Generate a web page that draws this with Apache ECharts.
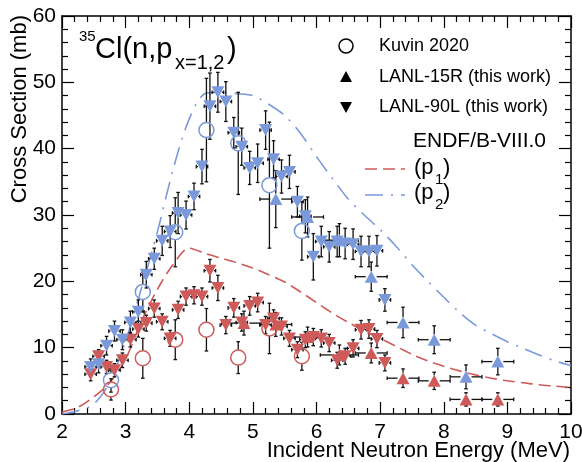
<!DOCTYPE html>
<html>
<head>
<meta charset="utf-8">
<script src="https://cdn.jsdelivr.net/npm/echarts@6/dist/echarts.min.js"></script>
<style>
html, body { margin: 0; padding: 0; background: #fff; }
#chart { width: 582px; height: 462px; }
</style>
</head>
<body>
<div id="chart"></div>
<script>
// ENDF/B-VIII.0 evaluation
const endfE = [2.0, 2.25, 2.5, 2.75, 3.0, 3.25, 3.5, 3.75, 4.0, 4.25, 4.5, 4.75, 5.0, 5.25, 5.5, 5.75, 6.0, 6.25, 6.5, 6.75, 7.0, 7.25, 7.5, 7.75, 8.0, 8.25, 8.5, 8.75, 9.0, 9.25, 9.5, 9.75, 10.0];
const endfP1 = [0.3, 1.0, 2.6, 4.7, 8.3, 14.0, 18.8, 22.6, 25.0, 24.2, 23.5, 22.8, 22.0, 21.0, 19.9, 18.4, 16.8, 15.2, 13.8, 12.5, 11.4, 10.2, 9.0, 8.0, 7.2, 6.5, 5.9, 5.4, 5.0, 4.7, 4.4, 4.2, 4.0];
const endfP2 = [0.0, 0.5, 1.5, 4.8, 11.0, 19.0, 27.5, 37.0, 44.5, 48.3, 48.5, 48.3, 48.0, 46.7, 45.0, 42.3, 38.8, 35.5, 32.4, 30.0, 27.8, 25.3, 22.5, 20.0, 17.6, 15.3, 13.4, 12.1, 10.9, 9.9, 8.9, 8.0, 7.3];

// LANL-90L (this work)
const e90L = [2.45, 2.575, 2.7, 2.825, 2.95, 3.075, 3.2, 3.325, 3.45, 3.575, 3.7, 3.825, 3.95, 4.075, 4.2, 4.325, 4.45, 4.575, 4.7, 4.825, 4.95, 5.075, 5.2, 5.325, 5.45, 5.575, 5.7, 5.825, 5.95, 6.075, 6.2, 6.325, 6.45, 6.575, 6.7, 6.825, 6.95, 7.075];
const p1_90L = [6.0, 8.7, 7.1, 6.6, 8.1, 11.2, 12.8, 13.7, 15.9, 13.9, 11.4, 15.7, 17.7, 17.9, 17.7, 21.6, 19.0, 13.4, 16.0, 13.8, 16.3, 16.8, 13.4, 14.4, 13.2, 11.4, 9.7, 11.2, 11.6, 11.4, 10.7, 8.1, 8.7, 9.9, 12.7, 12.8, 11.3, 7.7];
const p1_90L_err = [1.0, 1.0, 1.0, 1.0, 1.1, 1.1, 1.2, 1.2, 1.3, 1.2, 1.2, 1.3, 1.3, 1.3, 1.3, 1.7, 1.9, 1.3, 1.4, 1.3, 1.4, 1.4, 1.3, 1.3, 1.3, 1.2, 1.2, 1.2, 1.3, 1.3, 1.3, 1.2, 1.2, 1.3, 1.4, 1.4, 1.3, 1.2];
const p2_90L = [7.1, 7.5, 10.3, 12.5, 11.2, 13.8, 15.4, 21.0, 23.4, 26.1, 27.5, 30.3, 30.0, 32.8, 37.3, 46.4, 48.5, 47.1, 42.4, 40.3, 37.1, 37.8, 42.8, 38.4, 35.8, 36.5, 32.0, 29.8, 23.7, 26.0, 25.2, 26.0, 25.7, 25.6, 24.5, 24.5, 24.6, 17.2];
const p2_90L_err = [1.2, 1.3, 1.4, 1.5, 1.5, 1.7, 1.8, 2.0, 1.6, 2.2, 2.4, 3.1, 2.1, 2.0, 2.6, 5.0, 3.0, 3.0, 2.3, 2.8, 2.5, 2.9, 2.9, 2.8, 2.5, 2.5, 2.3, 2.5, 3.5, 2.3, 2.3, 2.3, 2.3, 2.3, 2.3, 2.3, 2.3, 1.7];

// LANL-15R (this work)
const e15R_p1 = [4.86, 5.36, 5.86, 6.36, 6.86, 7.36, 7.85, 8.35, 8.85];
const de15R_p1 = [0.35, 0.25, 0.25, 0.3, 0.25, 0.25, 0.25, 0.25, 0.25];
const p1_15R = [13.7, 13.5, 11.6, 8.9, 9.2, 5.4, 5.0, 2.2, 2.2];
const p1_15R_err = [1.8, 1.8, 1.5, 1.5, 1.5, 1.4, 1.3, 1.0, 1.0];
const e15R_p2 = [5.36, 5.86, 6.36, 6.86, 7.36, 7.85, 8.35, 8.85];
const de15R_p2 = [0.25, 0.25, 0.3, 0.25, 0.25, 0.25, 0.25, 0.25];
const p2_15R = [32.4, 29.7, 26.2, 20.7, 13.8, 11.2, 5.6, 7.9];
const p2_15R_err = [4.3, 3.0, 2.5, 2.2, 2.3, 2.1, 1.8, 2.0];

// Kuvin 2020
const eKuvin = [2.77, 3.27, 3.78, 4.27, 4.77, 5.26, 5.77];
const p1_Kuvin = [3.7, 8.4, 11.2, 12.7, 8.5, 12.9, 8.7];
const p1_Kuvin_err = [1.6, 3.0, 3.0, 3.2, 2.4, 3.8, 2.1];
const p2_Kuvin = [5.1, 18.4, 27.4, 42.8, 40.8, 34.5, 27.6];
const p2_Kuvin_err = [1.8, 3.0, 5.2, 7.8, 7.7, 9.5, 4.4];

const RED = '#cf5a5a';
const BLUE = '#7a99da';
const FONT = 'Liberation Sans, Arial, Helvetica, sans-serif';

const pairs = (xs, ys) => xs.map((x, i) => [x, ys[i]]);
const errRows = (xs, ys, dxs, dys) => xs.map((x, i) => [x, ys[i], Array.isArray(dxs) ? dxs[i] : dxs, dys[i]]);

// error bars drawn outside the marker, ROOT style with small end caps
function errorBars(data, gap) {
    return {
        type: 'custom',
        z: 3,
        silent: true,
        data: data,
        renderItem: function (params, api) {
            const x = api.value(0), y = api.value(1), dx = api.value(2), dy = api.value(3);
            const c = api.coord([x, y]);
            const top = api.coord([x, y + dy])[1];
            const bot = api.coord([x, y - dy])[1];
            const lft = api.coord([x - dx, y])[0];
            const rgt = api.coord([x + dx, y])[0];
            const st = { stroke: '#111', lineWidth: 1.3 };
            const cap = 1.8;
            const kids = [];
            const seg = (x1, y1, x2, y2) => kids.push({ type: 'line', shape: { x1, y1, x2, y2 }, style: st });
            if (dy > 0) {
                if (top < c[1] - gap) seg(c[0], c[1] - gap, c[0], top);
                if (bot > c[1] + gap) seg(c[0], c[1] + gap, c[0], bot);
                seg(c[0] - cap, top, c[0] + cap, top);
                seg(c[0] - cap, bot, c[0] + cap, bot);
            }
            if (dx > 0) {
                if (lft < c[0] - gap) seg(c[0] - gap, c[1], lft, c[1]);
                if (rgt > c[0] + gap) seg(c[0] + gap, c[1], rgt, c[1]);
                seg(lft, c[1] - cap, lft, c[1] + cap);
                seg(rgt, c[1] - cap, rgt, c[1] + cap);
            }
            return { type: 'group', children: kids };
        }
    };
}

function curve(ys, color, dash) {
    return {
        type: 'line',
        z: 2,
        data: pairs(endfE, ys),
        showSymbol: false,
        smooth: 0.3,
        silent: true,
        lineStyle: { color: color, width: 1.6, type: dash }
    };
}

function markers(xs, ys, color, kind) {
    const s = {
        type: 'scatter',
        z: 4,
        silent: true,
        data: pairs(xs, ys)
    };
    if (kind === 'circle') {
        s.symbol = 'circle';
        s.symbolSize = 15;
        s.itemStyle = { color: 'rgba(0,0,0,0)', borderColor: color, borderWidth: 1.5, opacity: 1 };
    } else {
        s.symbol = 'triangle';
        s.symbolSize = [13, 12];
        s.symbolRotate = kind === 'down' ? 180 : 0;
        s.itemStyle = { color: color, opacity: 1 };
    }
    return s;
}

const tickStyle = { color: '#000', width: 1.2 };
function xAxisCfg(pos, labels) {
    return {
        type: 'value', min: 2, max: 10, interval: 1, position: pos,
        axisLine: { show: true, onZero: false, lineStyle: { color: '#000', width: 1.5 } },
        axisTick: { show: true, inside: true, length: 12, lineStyle: tickStyle },
        minorTick: { show: true, splitNumber: 5, length: 6, lineStyle: tickStyle },
        splitLine: { show: false },
        axisLabel: { show: labels, color: '#000', fontSize: 21, fontFamily: FONT, margin: 8, showMinLabel: true, showMaxLabel: true }
    };
}
function yAxisCfg(pos, labels) {
    return {
        type: 'value', min: 0, max: 60, interval: 10, position: pos,
        axisLine: { show: true, onZero: false, lineStyle: { color: '#000', width: 1.5 } },
        axisTick: { show: true, inside: true, length: 12, lineStyle: tickStyle },
        minorTick: { show: true, splitNumber: 5, length: 6, lineStyle: tickStyle },
        splitLine: { show: false },
        axisLabel: { show: labels, color: '#000', fontSize: 21, fontFamily: FONT, margin: 6, showMinLabel: true, showMaxLabel: true }
    };
}

const txt = (x, y, text, size, align, extra) => Object.assign({
    type: 'text', x: x, y: y, silent: true,
    style: { text: text, fill: '#000', font: size + 'px ' + FONT, align: align || 'left', verticalAlign: 'middle' }
}, extra || {});

const legendGraphics = [
    // title
    txt(79, 37, '35', 15),
    txt(95, 50, 'Cl(n,p', 29),
    txt(175, 63, 'x=1,2', 20),
    txt(227, 50, ')', 29),
    // legend markers
    { type: 'circle', shape: { cx: 346, cy: 46, r: 7 }, style: { fill: 'none', stroke: '#000', lineWidth: 1.5 }, silent: true },
    { type: 'polygon', shape: { points: [[340, 82], [352, 82], [346, 71]] }, style: { fill: '#000' }, silent: true },
    { type: 'polygon', shape: { points: [[340, 102], [352, 102], [346, 113]] }, style: { fill: '#000' }, silent: true },
    txt(379, 46, 'Kuvin 2020', 18),
    txt(379, 77, 'LANL-15R (this work)', 18),
    txt(379, 107, 'LANL-90L (this work)', 18),
    txt(413, 141, 'ENDF/B-VIII.0', 21),
    { type: 'line', shape: { x1: 365, y1: 169, x2: 405, y2: 169 }, style: { stroke: RED, lineWidth: 1.6, lineDash: [12, 6] }, silent: true },
    { type: 'line', shape: { x1: 365, y1: 195, x2: 405, y2: 195 }, style: { stroke: BLUE, lineWidth: 1.6, lineDash: [18, 8, 2, 8] }, silent: true },
    txt(414, 168, '(p', 22),
    txt(435, 180, '1', 15),
    txt(443, 168, ')', 22),
    txt(414, 193, '(p', 22),
    txt(435, 205, '2', 15),
    txt(443, 193, ')', 22),
    // axis titles
    txt(570, 451, 'Incident Neutron Energy (MeV)', 22, 'right'),
    txt(20, 15, 'Cross Section (mb)', 22, 'right', { rotation: Math.PI / 2 })
];

const chart = echarts.init(document.getElementById('chart'), null, { renderer: 'canvas' });
const option = {
    animation: false,
    backgroundColor: '#fff',
    grid: { left: 62, right: 11, top: 16, bottom: 48, containLabel: false, outerBoundsMode: 'none' },
    xAxis: [xAxisCfg('bottom', true), xAxisCfg('top', false)],
    yAxis: [yAxisCfg('left', true), yAxisCfg('right', false)],
    series: [
        curve(endfP1, RED, [12, 6]),
        curve(endfP2, BLUE, [18, 8, 2, 8]),
        errorBars(errRows(eKuvin, p1_Kuvin, 0, p1_Kuvin_err), 7.5),
        errorBars(errRows(eKuvin, p2_Kuvin, 0, p2_Kuvin_err), 7.5),
        errorBars(errRows(e90L, p1_90L, 0.09, p1_90L_err), 4),
        errorBars(errRows(e90L, p2_90L, 0.09, p2_90L_err), 4),
        errorBars(errRows(e15R_p1, p1_15R, de15R_p1, p1_15R_err), 5.5),
        errorBars(errRows(e15R_p2, p2_15R, de15R_p2, p2_15R_err), 5.5),
        markers(eKuvin, p1_Kuvin, RED, 'circle'),
        markers(eKuvin, p2_Kuvin, BLUE, 'circle'),
        markers(e15R_p1, p1_15R, RED, 'up'),
        markers(e15R_p2, p2_15R, BLUE, 'up'),
        markers(e90L, p1_90L, RED, 'down'),
        markers(e90L, p2_90L, BLUE, 'down')
    ],
    graphic: legendGraphics
};
chart.setOption(option);
</script>
</body>
</html>
